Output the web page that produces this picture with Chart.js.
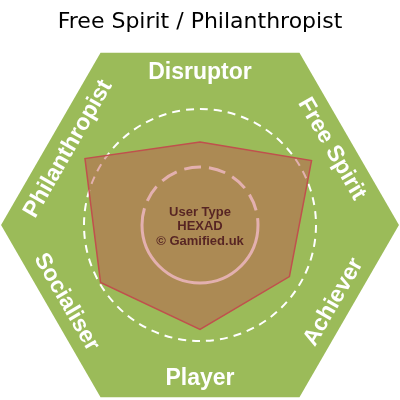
<!DOCTYPE html>
<html>
<head>
<meta charset="utf-8">
<title>User Type HEXAD</title>
<script src="https://cdn.jsdelivr.net/npm/chart.js@4.4.1/dist/chart.umd.min.js"></script>
<style>
    html, body { margin: 0; padding: 0; background: #ffffff; }
    #wrap { width: 400px; height: 400px; position: relative; }
</style>
</head>
<body>
<div id="wrap"><canvas id="hexad-chart"></canvas></div>
<script>
// Hexad user types, clockwise from the top
const typeLabels = ['Disruptor', 'Free Spirit', 'Achiever', 'Player', 'Socialiser', 'Philanthropist'];
// Scores (scale 0 - 30)
const typeScores = [14.3, 22.2, 17.8, 18, 19.8, 22.9];
const scaleMax = 30;
// Reference rings
const ringValues = [10, 20];
const centerLines = ['User Type', 'HEXAD', '\u00A9 Gamified.uk'];

const GREEN = '#9bbb59';
const RED = '#c0504d';

// Draws the green hexagon, type labels, rings and centre text behind the data
const hexadBackground = {
    id: 'hexadBackground',
    beforeDatasetsDraw(chart) {
        const scale = chart.scales.r;
        const ctx = chart.ctx;
        const cx = scale.xCenter;
        const cy = scale.yCenter;
        const unit = scale.drawingArea / scaleMax;

        ctx.save();

        // Flat-topped hexagon
        const hexR = 34.3 * unit;
        ctx.beginPath();
        for (let i = 0; i < 6; i++) {
            const a = i * Math.PI / 3;
            const x = cx + hexR * Math.cos(a);
            const y = cy + hexR * Math.sin(a);
            if (i === 0) ctx.moveTo(x, y); else ctx.lineTo(x, y);
        }
        ctx.closePath();
        ctx.fillStyle = GREEN;
        ctx.fill();

        // Type labels along each side
        const labelR = 26.4 * unit;
        ctx.fillStyle = '#ffffff';
        ctx.font = 'bold 23px "Liberation Sans", Arial, sans-serif';
        ctx.textAlign = 'center';
        ctx.textBaseline = 'middle';
        typeLabels.forEach((label, i) => {
            const a = -Math.PI / 2 + i * Math.PI / 3;
            const x = cx + labelR * Math.cos(a);
            const y = cy + labelR * Math.sin(a);
            // top half reads with its top outward, bottom half with its base outward
            const rot = Math.sin(a) < 0 ? a + Math.PI / 2 : a - Math.PI / 2;
            ctx.save();
            ctx.translate(x, y);
            ctx.rotate(rot);
            ctx.fillText(label, 0, 1);
            ctx.restore();
        });

        // Outer ring, short dashes
        ctx.strokeStyle = '#ffffff';
        ctx.lineWidth = 2;
        ctx.setLineDash([8, 6]);
        ctx.beginPath();
        ctx.arc(cx, cy, ringValues[1] * unit, 0, Math.PI * 2);
        ctx.stroke();

        // Inner ring, long dashes on top, solid underneath
        ctx.lineWidth = 3;
        ctx.setLineDash([17, 8]);
        ctx.beginPath();
        ctx.arc(cx, cy, ringValues[0] * unit, Math.PI, Math.PI * 2);
        ctx.stroke();
        ctx.setLineDash([]);
        ctx.beginPath();
        ctx.arc(cx, cy, ringValues[0] * unit, 0, Math.PI);
        ctx.stroke();

        // Centre text
        ctx.fillStyle = '#000000';
        ctx.font = 'bold 13px "Liberation Sans", Arial, sans-serif';
        centerLines.forEach((line, i) => {
            ctx.fillText(line, cx, cy - 13 + i * 14.5);
        });

        ctx.restore();
    }
};

const ctx = document.getElementById('hexad-chart').getContext('2d');
new Chart(ctx, {
    type: 'radar',
    data: {
        labels: typeLabels,
        datasets: [{
            data: typeScores,
            backgroundColor: 'rgba(192, 80, 77, 0.45)',
            borderColor: RED,
            borderWidth: 1.5,
            pointRadius: 0,
            fill: true
        }]
    },
    options: {
        responsive: true,
        maintainAspectRatio: false,
        animation: false,
        layout: { padding: 0 },
        scales: {
            r: {
                min: 0,
                max: scaleMax,
                ticks: { display: false },
                grid: { display: false },
                angleLines: { display: false },
                pointLabels: { display: false }
            }
        },
        plugins: {
            legend: { display: false },
            tooltip: { enabled: false },
            title: {
                display: true,
                text: 'Free Spirit / Philanthropist',
                color: '#000000',
                font: { family: '"DejaVu Sans", Verdana, sans-serif', size: 22, weight: 'normal' },
                padding: { top: 9, bottom: 15 }
            }
        }
    },
    plugins: [hexadBackground]
});
</script>
</body>
</html>
